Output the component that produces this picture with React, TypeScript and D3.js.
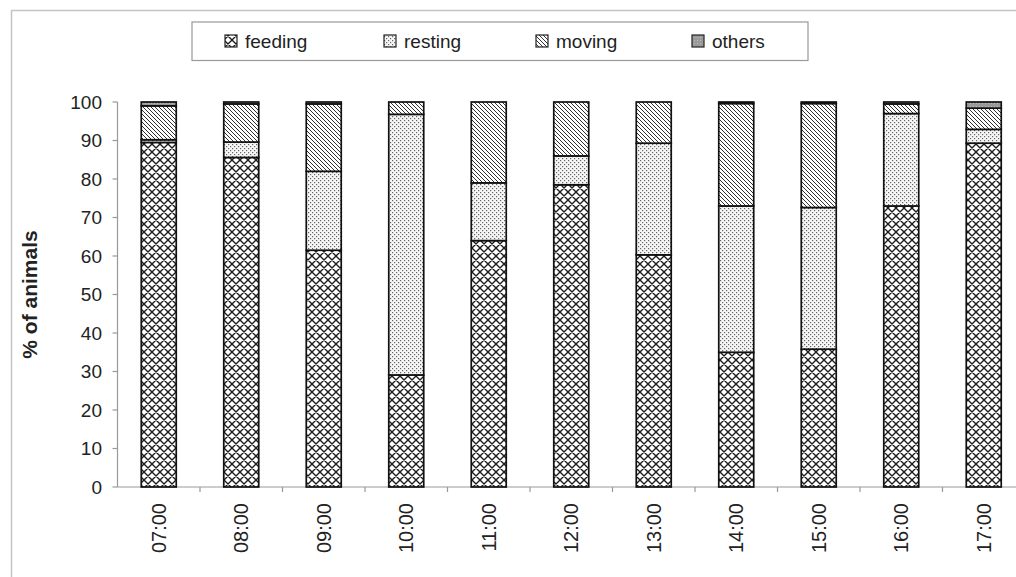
import React from "react";
import * as d3 from "d3";

const categories = ["07:00", "08:00", "09:00", "10:00", "11:00", "12:00", "13:00", "14:00", "15:00", "16:00", "17:00"];
const feeding = [89.5, 85.6, 61.5, 29.1, 64.0, 78.5, 60.3, 35.0, 35.8, 73.0, 89.3];
const resting = [0.7, 4.0, 20.5, 67.7, 15.0, 7.5, 29.0, 38.0, 36.8, 24.0, 3.6];
const moving = [8.8, 9.9, 17.5, 3.2, 21.0, 14.0, 10.7, 26.6, 27.0, 2.5, 5.5];
const others = [1.0, 0.5, 0.5, 0.0, 0.0, 0.0, 0.0, 0.4, 0.4, 0.5, 1.6];
const seriesNames = ["feeding", "resting", "moving", "others"];
const yTicks = [0, 10, 20, 30, 40, 50, 60, 70, 80, 90, 100];
const yTitle = "% of animals";

const W = 1016;
const H = 577;
const FONT = "'Liberation Sans', Arial, Helvetica, sans-serif";
const plotLeft = 117.5;
const plotRight = 1025;
const plotTop = 102;
const plotBottom = 487;
const legendX = [245, 404, 556, 712];

export default function App() {
  const rows = categories.map((c, i) => ({
    cat: c,
    feeding: feeding[i],
    resting: resting[i],
    moving: moving[i],
    others: others[i],
  }));
  const stacked = d3.stack<any>().keys(seriesNames)(rows);
  const x = d3.scaleBand<string>().domain(categories).range([plotLeft, plotRight]).paddingInner(0.576).paddingOuter(0.288);
  const y = d3.scaleLinear().domain([0, 100]).range([plotBottom, plotTop]);
  const step = x.step();
  const fills: Record<string, string> = {
    feeding: "url(#pFeed)",
    resting: "url(#pRest)",
    moving: "url(#pMove)",
    others: "url(#pOther)",
  };

  return (
    <svg width={W} height={H} style={{ position: "absolute", left: 0, top: 0, background: "#fff" }} fontFamily={FONT}>
      <defs>
        <pattern id="pFeed" width={8} height={8} patternUnits="userSpaceOnUse">
          <rect width={8} height={8} fill="#fff" />
          <path d="M0,0L8,8M8,0L0,8M-1,1L1,-1M7,9L9,7M-1,7L1,9M7,-1L9,1" stroke="#1a1a1a" strokeWidth={1.35} />
        </pattern>
        <pattern id="pRest" width={4} height={4} patternUnits="userSpaceOnUse">
          <rect width={4} height={4} fill="#f6f6f6" />
          <rect x={0} y={0} width={1.2} height={1.2} fill="#666" />
          <rect x={2} y={2} width={1.2} height={1.2} fill="#666" />
        </pattern>
        <pattern id="pMove" width={4} height={4} patternUnits="userSpaceOnUse">
          <rect width={4} height={4} fill="#fff" />
          <path d="M0,0L4,4M-1,3L1,5M3,-1L5,1" stroke="#333" strokeWidth={1} />
        </pattern>
        <pattern id="pOther" width={3} height={3} patternUnits="userSpaceOnUse">
          <rect width={3} height={3} fill="#9a9a9a" />
          <rect x={1} y={1} width={1} height={1} fill="#bbb" />
        </pattern>
      </defs>

      <rect x={11.5} y={10.5} width={1100} height={700} fill="#fff" stroke="#c4c4c4" strokeWidth={1.5} />

      {/* y axis */}
      <line x1={plotLeft} x2={plotLeft} y1={plotTop} y2={plotBottom} stroke="#999" strokeWidth={1.2} />
      {yTicks.map((t) => (
        <g key={t} transform={`translate(0,${y(t)})`}>
          <line x1={plotLeft - 5} x2={plotLeft} stroke="#999" strokeWidth={1.2} />
          <text x={102} dy="0.36em" textAnchor="end" fontSize={19} fill="#222">
            {t}
          </text>
        </g>
      ))}
      <text
        transform={`translate(37,${(plotTop + plotBottom) / 2}) rotate(-90)`}
        textAnchor="middle"
        fontSize={21}
        fontWeight="bold"
        fill="#222"
      >
        {yTitle}
      </text>

      {/* x axis */}
      <line x1={plotLeft} x2={plotRight} y1={plotBottom} y2={plotBottom} stroke="#999" strokeWidth={1.2} />
      {categories.map((c, i) => (
        <line key={c} x1={plotLeft + step * (i + 1)} x2={plotLeft + step * (i + 1)} y1={plotBottom} y2={plotBottom + 5} stroke="#999" strokeWidth={1.2} />
      ))}
      {categories.map((c) => (
        <text
          key={c}
          transform={`translate(${(x(c) as number) + x.bandwidth() / 2},503) rotate(-90)`}
          textAnchor="end"
          dy="0.36em"
          fontSize={20}
          fill="#222"
        >
          {c}
        </text>
      ))}

      {/* bars */}
      {stacked.map((s) => (
        <g key={s.key}>
          {s.map((d, i) =>
            d[1] - d[0] > 0 ? (
              <rect
                key={i}
                x={x(categories[i]) as number}
                y={y(d[1])}
                width={x.bandwidth()}
                height={y(d[0]) - y(d[1])}
                fill={fills[s.key]}
                stroke="#111"
                strokeWidth={1.7}
              />
            ) : null
          )}
        </g>
      ))}

      {/* legend */}
      <rect x={192} y={22} width={616} height={38.5} fill="#fff" stroke="#999" strokeWidth={1.2} />
      {seriesNames.map((n, i) => (
        <g key={n}>
          <rect x={legendX[i] - 20} y={35} width={12} height={12} fill={fills[n]} stroke="#222" strokeWidth={1.2} />
          <text x={legendX[i]} y={41} dy="0.36em" fontSize={19} fill="#222">
            {n}
          </text>
        </g>
      ))}
    </svg>
  );
}
